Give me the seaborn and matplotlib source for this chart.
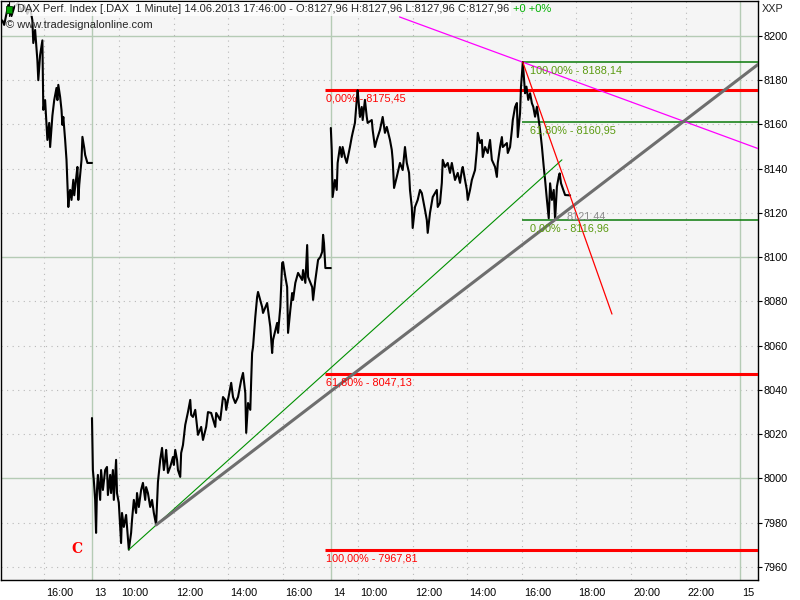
import matplotlib
matplotlib.use("Agg")
import matplotlib.pyplot as plt
import matplotlib.transforms as mtransforms
from matplotlib.patches import Rectangle
import seaborn as sns
import pandas as pd
import numpy as np

# minutes after 09:00 and price, one pair of lists per trading day
day12_min = [328, 332, 337, 341, 348, 354, 363, 370, 376, 383, 389, 394, 396, 400, 405, 407, 411, 416, 418, 422,
             427, 431, 433, 438, 442, 447, 449, 451, 455, 458, 460, 462, 466, 469, 473, 475, 477, 480, 484, 486,
             491, 493, 495, 497, 502, 504, 508, 510, 515, 525]
day12_price = [8207, 8205, 8210, 8214, 8209, 8213, 8215, 8211, 8214, 8210, 8213, 8207, 8196.8, 8202.7, 8189, 8180,
               8191.4, 8198, 8166.6, 8171, 8153, 8160.7, 8149.8, 8164, 8171, 8176.5, 8171, 8177.9, 8172.4, 8166.6,
               8159.8, 8163.4, 8153, 8144, 8122.7, 8128, 8130.4, 8125.9, 8135, 8128, 8137.2, 8140.8, 8125.9, 8132.7,
               8144, 8154.4, 8149.4, 8146.2, 8142.6, 8142.6]

day13_min = [0, 2, 4, 7, 9, 11, 13, 18, 20, 24, 29, 33, 35, 40, 42, 46, 48, 53, 55, 59,
             64, 66, 70, 75, 81, 86, 88, 92, 97, 99, 103, 108, 112, 117, 119, 123, 128, 132, 136, 141,
             145, 150, 154, 158, 161, 163, 167, 172, 178, 180, 183, 187, 189, 194, 196, 200, 205, 211, 216, 218,
             222, 227, 233, 240, 244, 251, 255, 262, 271, 273, 282, 288, 293, 295, 299, 306, 310, 315, 321, 328,
             332, 337, 339, 343, 348, 350, 352, 354, 359, 363, 365, 374, 376, 385, 387, 392, 396, 398, 407, 409,
             414, 418, 420, 425, 429, 431, 436, 440, 442, 447, 453, 462, 464, 469, 473, 475, 484, 486, 491, 497,
             502, 506, 508, 510, 513, 525]
day13_price = [8027.3, 8003.8, 7999.3, 7990.3, 7975.4, 7994.8, 8001.6, 7990.3, 8003.8, 7994.8,
               8003.8, 8005.2, 7992.5, 8001.6, 7993.4, 8003.8, 7990.3, 8008.4, 7993.4, 7988.9,
               7970.8, 7984.4, 7978.1, 7983.5, 7967.81, 7975.4, 7981.2, 7990.3, 7984.4, 7993.4,
               7987.1, 7994.8, 7998.0, 7990.3, 7996.1, 7993.4, 7987.1, 7990.3, 7984.4, 7979.0,
               7998.4, 8008.4, 8013.8, 8003.8, 8008.4, 8012.9, 8002.5, 8005.2, 8009.7, 8006.1,
               8012.9, 8008.4, 8003.8, 8000.7, 8011.5, 8015.1, 8024.2, 8030.0, 8035.5, 8028.7,
               8027.8, 8031.0, 8019.7, 8023.3, 8017.4, 8023.3, 8030.0, 8029.6, 8023.3, 8029.6,
               8026.4, 8036.8, 8035.5, 8031.0, 8035.5, 8043.2, 8036.8, 8034.1, 8036.8, 8044.5,
               8047.7, 8038.6, 8020.6, 8034.1, 8031.0, 8044.5, 8056.7, 8059.4, 8073.0, 8082.0,
               8084.3, 8077.5, 8074.8, 8079.3, 8076.2, 8068.5, 8056.7, 8062.6, 8070.3, 8065.8,
               8077.5, 8097.4, 8097.8, 8091.1, 8086.5, 8065.8, 8076.2, 8083.8, 8080.7, 8088.4,
               8092.9, 8089.7, 8094.2, 8088.4, 8105.5, 8091.1, 8086.5, 8080.7, 8089.7, 8098.8,
               8100.1, 8102.4, 8110.1, 8106.4, 8095.1, 8095.1]

day14_min = [0, 2, 4, 9, 13, 15, 20, 24, 26, 31, 35, 42, 46, 48, 53, 57, 59, 64, 68, 70,
             75, 79, 81, 90, 92, 97, 101, 108, 114, 119, 123, 130, 134, 136, 139, 145, 152, 158, 163, 167,
             172, 174, 178, 180, 185, 191, 196, 200, 207, 211, 213, 218, 224, 233, 235, 240, 244, 246, 251, 257,
             262, 266, 273, 279, 284, 288, 290, 295, 299, 301, 306, 310, 317, 321, 323, 328, 332, 334, 339, 345,
             350, 354, 361, 365, 367, 372, 376, 378, 387, 389, 394, 398, 400, 405, 409, 411, 416, 418, 422, 427,
             430, 434, 438, 442, 445, 449, 453, 456, 460, 464, 468, 471, 475, 479, 482, 486, 490, 493, 497, 501,
             503, 506, 511, 515, 526]
day14_price = [8158.4, 8148.5, 8127.2, 8134.9, 8130.4, 8142.6, 8149.8, 8145.3, 8149.8, 8145.3,
               8142.6, 8149.8, 8154.3, 8156.2, 8160.7, 8171.1, 8175.45, 8163.4, 8167.9, 8162.0,
               8171.1, 8163.4, 8160.7, 8162.0, 8157.5, 8149.8, 8153.0, 8157.5, 8163.4, 8156.2,
               8158.9, 8153.0, 8148.5, 8144.0, 8131.3, 8136.3, 8142.6, 8139.4, 8149.8, 8142.6,
               8138.1, 8130.4, 8122.7, 8113.2, 8122.7, 8125.9, 8130.4, 8129.0, 8121.4, 8116.8,
               8111.0, 8120.0, 8127.2, 8130.4, 8122.7, 8124.5, 8133.6, 8144.0, 8140.8, 8142.6,
               8138.1, 8142.6, 8134.9, 8138.1, 8133.6, 8139.4, 8140.8, 8134.9, 8130.4, 8125.9,
               8130.4, 8134.9, 8139.4, 8148.5, 8156.2, 8151.6, 8153.0, 8145.3, 8149.8, 8147.1,
               8153.0, 8144.0, 8140.8, 8136.3, 8142.6, 8149.8, 8154.3, 8149.8, 8151.6, 8147.1,
               8149.8, 8157.5, 8162.0, 8167.9, 8169.7, 8154.3, 8165.2, 8176.9, 8188.14, 8174.1,
               8177.1, 8171.1, 8174.1, 8169.6, 8168.0, 8163.5, 8168.0, 8163.5, 8157.5, 8150.0,
               8140.9, 8134.9, 8125.9, 8117.6, 8133.4, 8125.9, 8130.4, 8116.96, 8131.9, 8136.4,
               8137.9, 8133.4, 8130.4, 8128.1, 8127.96]

# fibonacci levels
red_fib = [8175.45, 8047.13, 7967.81]
red_fib_labels = ["0,00% - 8175,45", "61,80% - 8047,13", "100,00% - 7967,81"]
green_fib = [8188.14, 8160.95, 8116.96]
green_fib_labels = ["100,00% - 8188,14", "61,80% - 8160,95", "0,00% - 8116,96"]

# trend lines: (day, minute, price) anchors
green_trend = [(13, 81, 7967.81), (14, 508, 8144.0)]
gray_trend = [(13, 141, 7979.0), (14, 493, 8116.96)]
red_trend = [(14, 422, 8188.14), (14, 618, 8074.3)]
magenta_trend = [(14, 151, 8208.6), (14, 422, 8188.14)]

tick_pos = [(12, 420), (13, 0), (13, 60), (13, 180), (13, 300), (13, 420), (14, 0), (14, 60), (14, 180),
            (14, 300), (14, 420), (14, 540), (14, 660), (14, 780), (14, 900)]
tick_labels = ["16:00", "13", "10:00", "12:00", "14:00", "16:00", "14", "10:00", "12:00",
               "14:00", "16:00", "18:00", "20:00", "22:00", "15"]

offsets = {12: -8.75, 13: 0.0, 14: 8.75}  # sessions 09:00-17:45 packed together


def xpos(day, minute):
    return offsets[day] + minute / 60.0


frames = []
for d, mins, prices in [(12, day12_min, day12_price), (13, day13_min, day13_price), (14, day14_min, day14_price)]:
    frames.append(pd.DataFrame({"day": d, "x": [xpos(d, m) for m in mins], "price": prices}))
df = pd.concat(frames, ignore_index=True)

sns.set_style("white")
plt.rcParams["font.family"] = ["Liberation Sans", "DejaVu Sans"]

fig = plt.figure(figsize=(8, 6), dpi=100)
fig.patch.set_facecolor("white")
ax = fig.add_axes([1 / 800, 20 / 600, 757 / 800, 579 / 600])
ax.set_facecolor("#f5f5f5")
xmin, xmax = -3.333, 24.4
ax.set_xlim(xmin, xmax)
ax.set_ylim(7954.1, 8215.8)

# grid
grid_solid = "#b5cbb5"
for v in range(7960, 8216, 20):
    if v % 100 == 0:
        ax.axhline(v, color=grid_solid, lw=1, zorder=0)
    else:
        ax.axhline(v, color="#b8b8b8", lw=0.8, ls=(0, (1, 4)), zorder=0)
for (d, m), lab in zip(tick_pos, tick_labels):
    if ":" in lab:
        ax.axvline(xpos(d, m), color="#b8b8b8", lw=0.8, ls=(0, (1, 4)), zorder=0)
    else:
        ax.axvline(xpos(d, m), color=grid_solid, lw=1, zorder=0)

# price
sns.lineplot(data=df, x="x", y="price", units="day", estimator=None, color="black", lw=1.5,
             sort=False, ax=ax, zorder=5, legend=False)


def trend(points, x_end=None, **kw):
    (d0, m0, p0), (d1, m1, p1) = points
    x0, x1 = xpos(d0, m0), xpos(d1, m1)
    if x_end is not None:
        slope = (p1 - p0) / (x1 - x0)
        p1 = p0 + slope * (x_end - x0)
        x1 = x_end
    sns.lineplot(x=[x0, x1], y=[p0, p1], ax=ax, **kw)


trend(green_trend, color="#009000", lw=0.8, zorder=6)
trend(gray_trend, x_end=xmax, color="#6e6e6e", lw=2.2, zorder=7)
trend(red_trend, color="#ff0000", lw=0.9, zorder=7)
trend(magenta_trend, x_end=xmax, color="#ff00ff", lw=0.9, zorder=4)

# fibonacci lines
rx0 = xpos(14, -13)
for lvl, lab in zip(red_fib, red_fib_labels):
    ax.hlines(lvl, rx0, xmax, color="#ff0000", lw=2.2, zorder=3)
    ax.annotate(lab, (rx0, lvl), xytext=(1, -2.5), textcoords="offset points", va="top", ha="left",
                color="#ff0000", fontsize=7.8, zorder=8)
gx0 = xpos(14, 420)
for lvl, lab in zip(green_fib, green_fib_labels):
    ax.hlines(lvl, gx0, xmax, color="#0a7a0a", lw=1.1, zorder=3)
    ax.annotate(lab, (xpos(14, 438), lvl), xytext=(0, -2.5), textcoords="offset points", va="top",
                ha="left", color="#5a9a10", fontsize=7.8, zorder=8)
ax.annotate("8121,44", (xpos(14, 519), gray_trend[1][2]), xytext=(0, 2), textcoords="offset points",
            va="center", ha="left", color="#8c8c8c", fontsize=7.8, zorder=8)
ax.text(xpos(13, -33), 7968, "C", color="#ff0000", fontsize=10, fontweight="bold", family="DejaVu Serif",
        ha="center", va="center", zorder=8)

# axes styling
for s in ax.spines.values():
    s.set_color("black")
    s.set_linewidth(1)
ax.yaxis.tick_right()
ax.set_yticks(range(7960, 8201, 20))
ax.set_yticklabels([str(v) for v in range(7960, 8201, 20)])
ax.set_xticks([xpos(d, m) for d, m in tick_pos])
ax.set_xticklabels(tick_labels)
ax.tick_params(axis="y", direction="out", length=3, width=0.8, pad=1, labelsize=7.8, colors="black")
ax.tick_params(axis="x", direction="out", length=4, width=0.8, pad=2, labelsize=7.8, colors="black")
shift = mtransforms.ScaledTranslation(2 / 100, 0.0, fig.dpi_scale_trans)
for t in ax.get_xticklabels():
    t.set_ha("left")
    t.set_transform(t.get_transform() + shift)
ax.set_xlabel("")
ax.set_ylabel("")
fig.text(762 / 800, 1 - 9 / 600, "XXP", fontsize=7.8, va="center", ha="left")

# header
head = fig.text(17 / 800, 1 - 9 / 600,
                "DAX Perf. Index [.DAX  1 Minute] 14.06.2013 17:46:00 - O:8127,96 H:8127,96 L:8127,96 C:8127,96",
                fontsize=8, va="center", ha="left", zorder=10,
                bbox=dict(facecolor="white", edgecolor="none", alpha=0.8, pad=1.5))
fig.canvas.draw()
bb = head.get_window_extent()
fig.text(bb.x1 / 800 + 4 / 800, 1 - 9 / 600, "+0 +0%", fontsize=8, va="center", ha="left",
         color="#00b000", zorder=10)
fig.text(6 / 800, 1 - 25 / 600, "\u00a9 www.tradesignalonline.com", fontsize=8, va="center", ha="left", zorder=10)
fig.patches.append(Rectangle((6 / 800, 1 - 13 / 600), 6 / 800, 7 / 600, transform=fig.transFigure,
                             facecolor="#00a000", edgecolor="#004000", lw=0.6, zorder=11))
fig.lines.append(plt.Line2D([9 / 800, 9 / 800], [1 - 2 / 600, 1 - 16 / 600], transform=fig.transFigure,
                            color="black", lw=0.8, zorder=10))

fig.savefig("out.png", dpi=100)
